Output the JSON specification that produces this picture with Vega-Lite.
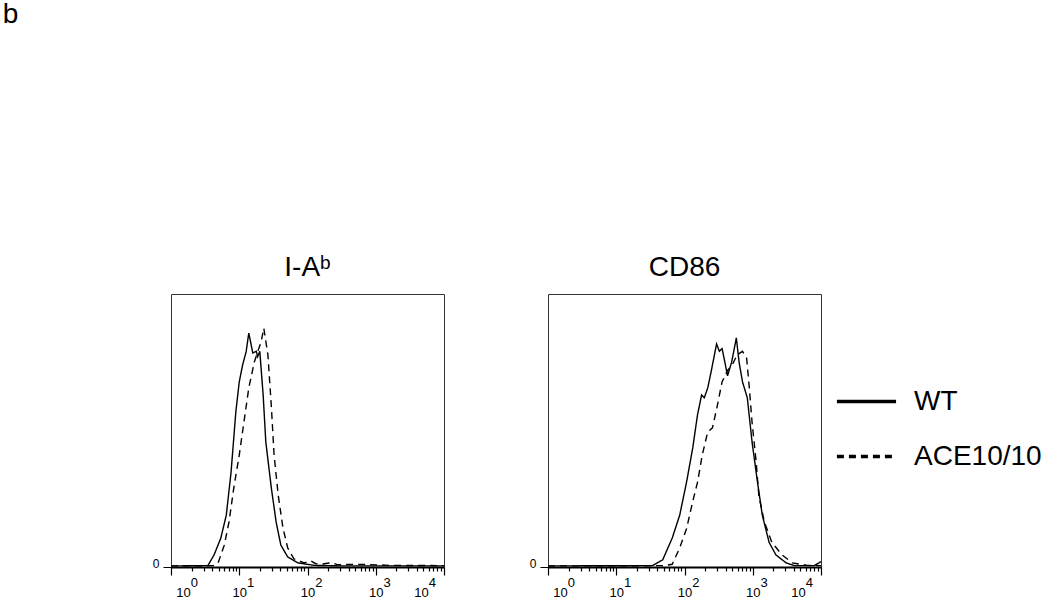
{
  "$schema": "https://vega.github.io/schema/vega-lite/v6.json",
  "padding": {"left": 2, "top": 0, "right": 0, "bottom": 0},
  "background": "white",
  "title": {"text": "b", "anchor": "start", "fontSize": 28, "fontWeight": "normal", "color": "black", "dx": -149, "offset": 225, "baseline": "top"},
  "datasets": {
    "iab": [
      {"group": "WT", "x": 1, "y": 0.4},
      {"group": "WT", "x": 3.47, "y": 0.5},
      {"group": "WT", "x": 4.27, "y": 4.4},
      {"group": "WT", "x": 5.37, "y": 10.6},
      {"group": "WT", "x": 6.46, "y": 19},
      {"group": "WT", "x": 7.59, "y": 34.8},
      {"group": "WT", "x": 8.91, "y": 56.8},
      {"group": "WT", "x": 10, "y": 67.8},
      {"group": "WT", "x": 11.2, "y": 74},
      {"group": "WT", "x": 12.6, "y": 78.8},
      {"group": "WT", "x": 13.8, "y": 85.7},
      {"group": "WT", "x": 15.8, "y": 78.4},
      {"group": "WT", "x": 17.8, "y": 79},
      {"group": "WT", "x": 18.6, "y": 77},
      {"group": "WT", "x": 20.0, "y": 79},
      {"group": "WT", "x": 22.4, "y": 63},
      {"group": "WT", "x": 24.5, "y": 45.8},
      {"group": "WT", "x": 29.5, "y": 29},
      {"group": "WT", "x": 34.7, "y": 16.5},
      {"group": "WT", "x": 40.7, "y": 8},
      {"group": "WT", "x": 51.3, "y": 3.7},
      {"group": "WT", "x": 72.4, "y": 1.5},
      {"group": "WT", "x": 126, "y": 0.6},
      {"group": "WT", "x": 316, "y": 0.4},
      {"group": "WT", "x": 1000, "y": 0.4},
      {"group": "WT", "x": 3162, "y": 0.4},
      {"group": "WT", "x": 10000, "y": 0.4},
      {"group": "ACE10/10", "x": 1, "y": 0.4},
      {"group": "ACE10/10", "x": 4.17, "y": 0.5},
      {"group": "ACE10/10", "x": 4.9, "y": 1.5},
      {"group": "ACE10/10", "x": 6.03, "y": 8},
      {"group": "ACE10/10", "x": 7.08, "y": 16.5},
      {"group": "ACE10/10", "x": 8.32, "y": 29},
      {"group": "ACE10/10", "x": 10, "y": 41},
      {"group": "ACE10/10", "x": 11.7, "y": 53},
      {"group": "ACE10/10", "x": 13.8, "y": 65.6},
      {"group": "ACE10/10", "x": 16.6, "y": 75},
      {"group": "ACE10/10", "x": 18.6, "y": 78.8},
      {"group": "ACE10/10", "x": 20.9, "y": 82.4},
      {"group": "ACE10/10", "x": 22.9, "y": 87.5},
      {"group": "ACE10/10", "x": 26.3, "y": 77.7},
      {"group": "ACE10/10", "x": 29.5, "y": 59},
      {"group": "ACE10/10", "x": 32.4, "y": 41},
      {"group": "ACE10/10", "x": 37.2, "y": 26.4},
      {"group": "ACE10/10", "x": 43.7, "y": 14.3},
      {"group": "ACE10/10", "x": 51.3, "y": 7},
      {"group": "ACE10/10", "x": 63.1, "y": 3},
      {"group": "ACE10/10", "x": 89.1, "y": 1.5},
      {"group": "ACE10/10", "x": 112, "y": 2.2},
      {"group": "ACE10/10", "x": 132, "y": 1.2},
      {"group": "ACE10/10", "x": 158, "y": 1.0},
      {"group": "ACE10/10", "x": 224, "y": 1.6},
      {"group": "ACE10/10", "x": 282, "y": 0.8},
      {"group": "ACE10/10", "x": 501, "y": 1.0},
      {"group": "ACE10/10", "x": 794, "y": 0.9},
      {"group": "ACE10/10", "x": 1585, "y": 0.6},
      {"group": "ACE10/10", "x": 10000, "y": 0.5}
    ],
    "cd86": [
      {"group": "WT", "x": 1, "y": 0.4},
      {"group": "WT", "x": 33.9, "y": 0.5},
      {"group": "WT", "x": 47.9, "y": 2.6},
      {"group": "WT", "x": 66.1, "y": 10.6},
      {"group": "WT", "x": 85.1, "y": 19},
      {"group": "WT", "x": 107, "y": 31},
      {"group": "WT", "x": 132, "y": 43.6},
      {"group": "WT", "x": 155, "y": 55.7},
      {"group": "WT", "x": 178, "y": 63},
      {"group": "WT", "x": 195, "y": 62},
      {"group": "WT", "x": 219, "y": 65.6},
      {"group": "WT", "x": 245, "y": 71.4},
      {"group": "WT", "x": 295, "y": 81.7},
      {"group": "WT", "x": 324, "y": 79},
      {"group": "WT", "x": 355, "y": 80},
      {"group": "WT", "x": 380, "y": 76.5},
      {"group": "WT", "x": 427, "y": 70},
      {"group": "WT", "x": 490, "y": 75},
      {"group": "WT", "x": 575, "y": 83.9},
      {"group": "WT", "x": 631, "y": 75},
      {"group": "WT", "x": 708, "y": 67.8},
      {"group": "WT", "x": 832, "y": 62},
      {"group": "WT", "x": 977, "y": 45.8},
      {"group": "WT", "x": 1175, "y": 31},
      {"group": "WT", "x": 1380, "y": 19},
      {"group": "WT", "x": 1738, "y": 9},
      {"group": "WT", "x": 2188, "y": 4.4},
      {"group": "WT", "x": 3090, "y": 1.5},
      {"group": "WT", "x": 4074, "y": 0.5},
      {"group": "WT", "x": 7943, "y": 0.5},
      {"group": "WT", "x": 9333, "y": 1.5},
      {"group": "WT", "x": 10000, "y": 2},
      {"group": "ACE10/10", "x": 1, "y": 0.4},
      {"group": "ACE10/10", "x": 50.1, "y": 0.5},
      {"group": "ACE10/10", "x": 66.1, "y": 1},
      {"group": "ACE10/10", "x": 85.1, "y": 7},
      {"group": "ACE10/10", "x": 107, "y": 14},
      {"group": "ACE10/10", "x": 132, "y": 24},
      {"group": "ACE10/10", "x": 155, "y": 31},
      {"group": "ACE10/10", "x": 182, "y": 41},
      {"group": "ACE10/10", "x": 219, "y": 49.5},
      {"group": "ACE10/10", "x": 257, "y": 51},
      {"group": "ACE10/10", "x": 302, "y": 59},
      {"group": "ACE10/10", "x": 355, "y": 67.8},
      {"group": "ACE10/10", "x": 427, "y": 72},
      {"group": "ACE10/10", "x": 501, "y": 74},
      {"group": "ACE10/10", "x": 589, "y": 77.7},
      {"group": "ACE10/10", "x": 708, "y": 79},
      {"group": "ACE10/10", "x": 813, "y": 76.5},
      {"group": "ACE10/10", "x": 891, "y": 65.6},
      {"group": "ACE10/10", "x": 977, "y": 53},
      {"group": "ACE10/10", "x": 1122, "y": 38.5},
      {"group": "ACE10/10", "x": 1230, "y": 26},
      {"group": "ACE10/10", "x": 1479, "y": 16.5},
      {"group": "ACE10/10", "x": 1905, "y": 9},
      {"group": "ACE10/10", "x": 2692, "y": 4.4},
      {"group": "ACE10/10", "x": 3802, "y": 1.5},
      {"group": "ACE10/10", "x": 6310, "y": 0.6},
      {"group": "ACE10/10", "x": 10000, "y": 0.5}
    ]
  },
  "spacing": 80,
  "resolve": {"scale": {"strokeDash": "shared"}, "legend": {"strokeDash": "shared"}},
  "hconcat": [
    {
      "width": 273, "height": 273,
      "title": {"text": "I-Aᵇ"},
      "data": {"name": "iab"},
      "mark": {"type": "line", "color": "black", "strokeWidth": 1.4},
      "encoding": {
        "x": {"field": "x", "type": "quantitative", "scale": {"type": "log", "domain": [1, 10000], "nice": false},
          "axis": {"values": [1,2,3,4,5,6,7,8,9,10,20,30,40,50,60,70,80,90,100,200,300,400,500,600,700,800,900,1000,2000,3000,4000,5000,6000,7000,8000,9000,10000],
            "tickSize": {"condition": {"test": "indexof([1,10,100,1000,10000], datum.value) >= 0", "value": 8}, "value": 4},
            "labelOffset": {"condition": [{"test": "datum.value == 1", "value": 12}, {"test": "datum.value == 10000", "value": -23}], "value": 0},
            "labelExpr": "indexof([1,10,100,1000,10000], datum.value) >= 0 ? ['\u200d\u00a0\u00a0\u00a0\u00a0\u00a0\u00a0' + round(log(datum.value)/LN10), '10'] : ''"}},
        "y": {"field": "y", "type": "quantitative", "scale": {"domain": [0, 100]}, "axis": {"values": [0]}},
        "strokeDash": {"field": "group", "type": "nominal", "scale": {"domain": ["WT", "ACE10/10"], "range": [[1, 0], [7, 5]]}}
      }
    },
    {
      "width": 273, "height": 273,
      "title": {"text": "CD86"},
      "data": {"name": "cd86"},
      "mark": {"type": "line", "color": "black", "strokeWidth": 1.4},
      "encoding": {
        "x": {"field": "x", "type": "quantitative", "scale": {"type": "log", "domain": [1, 10000], "nice": false},
          "axis": {"values": [1,2,3,4,5,6,7,8,9,10,20,30,40,50,60,70,80,90,100,200,300,400,500,600,700,800,900,1000,2000,3000,4000,5000,6000,7000,8000,9000,10000],
            "tickSize": {"condition": {"test": "indexof([1,10,100,1000,10000], datum.value) >= 0", "value": 8}, "value": 4},
            "labelOffset": {"condition": [{"test": "datum.value == 1", "value": 12}, {"test": "datum.value == 10000", "value": -23}], "value": 0},
            "labelExpr": "indexof([1,10,100,1000,10000], datum.value) >= 0 ? ['\u200d\u00a0\u00a0\u00a0\u00a0\u00a0\u00a0' + round(log(datum.value)/LN10), '10'] : ''"}},
        "y": {"field": "y", "type": "quantitative", "scale": {"domain": [0, 100]}, "axis": {"values": [0]}},
        "strokeDash": {"field": "group", "type": "nominal", "scale": {"domain": ["WT", "ACE10/10"], "range": [[1, 0], [7, 5]]},
          "legend": {"orient": "none", "legendX": 664, "legendY": 76,
            "encode": {"symbols": {"update": {"strokeDash": {"signal": "datum.value == 'WT' ? [1, 0] : [3.5, 4]"}}}}}}
      }
    }
  ],
  "config": {
    "font": "Liberation Sans",
    "view": {"stroke": "#333333", "strokeWidth": 1},
    "title": {"fontSize": 28, "fontWeight": "normal", "color": "black", "offset": 12},
    "axis": {"title": null, "grid": false, "domainColor": "black", "tickColor": "black", "labelColor": "black", "labelFont": "Liberation Sans"},
    "axisX": {"domainWidth": 2, "tickWidth": 1.2, "labelFontSize": 13, "labelLineHeight": 10, "labelPadding": 1, "labelFlush": false, "labelOverlap": false, "labelBound": false},
    "axisY": {"domain": false, "tickSize": 8, "tickWidth": 1, "labelFontSize": 12, "labelPadding": 4, "labelBaseline": "alphabetic"},
    "legend": {"title": null, "symbolType": "stroke", "symbolSize": 3500, "symbolStrokeWidth": 3.5, "symbolStrokeColor": "black", "labelFontSize": 28, "labelColor": "black", "labelOffset": 16, "rowPadding": 9, "labelLimit": 300}
  }
}
